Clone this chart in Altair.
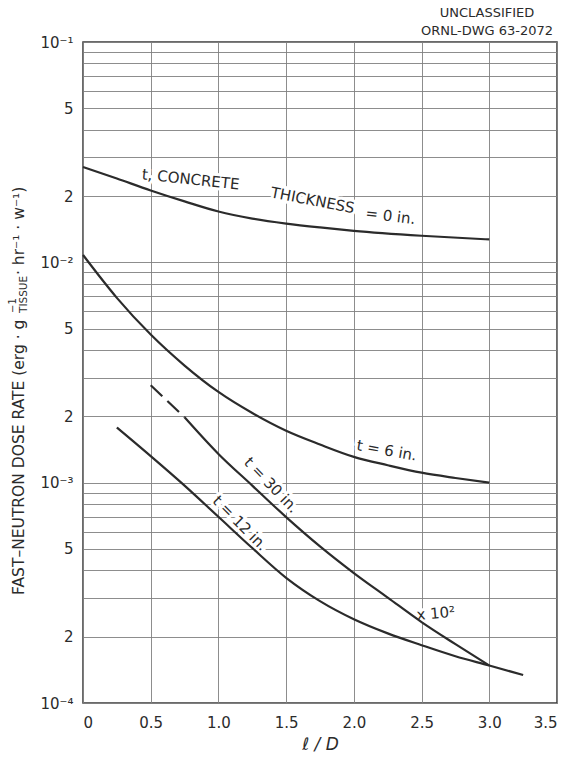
import altair as alt
import pandas as pd

# ---------------- data ----------------
t0_x = [0.0, 0.25, 0.5, 0.75, 1.0, 1.25, 1.5, 1.75, 2.0, 2.5, 3.0]
t0_y = [0.0271, 0.0240, 0.0212, 0.0189, 0.0170, 0.0158, 0.0150, 0.0144, 0.0139, 0.0132, 0.0127]

t6_x = [0.0, 0.25, 0.5, 0.75, 1.0, 1.25, 1.5, 1.75, 2.0, 2.25, 2.5, 2.75, 3.0]
t6_y = [0.0108, 0.0069, 0.0047, 0.0034, 0.00258, 0.00207, 0.00172, 0.00149, 0.00131,
        0.00120, 0.00111, 0.00105, 0.00100]

t12_x = [0.25, 0.5, 0.75, 1.0, 1.25, 1.5, 1.75, 2.0, 2.25, 2.5, 2.75, 3.0, 3.25]
t12_y = [0.00178, 0.00132, 0.00097, 0.00070, 0.000505, 0.000370, 0.000290, 0.000240,
         0.000207, 0.000183, 0.000163, 0.000148, 0.000134]

t30_dash_x = [0.5, 0.625, 0.75]
t30_dash_y = [0.00277, 0.00234, 0.00198]
t30_x = [0.75, 1.0, 1.25, 1.5, 1.75, 2.0, 2.25, 2.5, 2.75, 3.0]
t30_y = [0.00198, 0.00135, 0.00097, 0.000698, 0.000514, 0.000389, 0.000301, 0.000233,
         0.000185, 0.000148]

x_tick_values = [0.0, 0.5, 1.0, 1.5, 2.0, 2.5, 3.0, 3.5]
x_tick_labels = ["0", "0.5", "1.0", "1.5", "2.0", "2.5", "3.0", "3.5"]

y_grid_mult = [1, 2, 3, 4, 5, 6, 7, 8, 9]
y_decades = [1e-4, 1e-3, 1e-2]
y_tick_values = [0.0001, 0.0002, 0.0005, 0.001, 0.002, 0.005, 0.01, 0.02, 0.05, 0.1]
y_tick_labels = ["10⁻⁴", "2", "5", "10⁻³", "2", "5", "10⁻²", "2", "5", "10⁻¹"]

# curve annotations: text, x, y, angle
curve_labels = [
    ("t, CONCRETE", 0.795, 0.0238, 6),
    ("THICKNESS", 1.696, 0.0191, 11),
    ("= 0 in.", 2.27, 0.0162, 7),
    ("t = 6 in.", 2.243, 0.00140, 10),
    ("t = 30 in.", 1.39, 0.000975, 46),
    ("t = 12 in.", 1.16, 0.000655, 45),
    ("x 10²", 2.605, 0.000255, 355),
]

# ---------------- chart ----------------
FONT = "DejaVu Sans"
INK = "#2b2b2b"

y_grid_values = [m * d for d in y_decades for m in y_grid_mult] + [0.1]

def label_expr(values, labels):
    parts = [f"abs(datum.value - {v}) < {abs(v) * 1e-3 + 1e-12} ? '{l}'" for v, l in zip(values, labels)]
    return " : ".join(parts) + " : ''"

x_axis = alt.Axis(values=x_tick_values, labelExpr=label_expr(x_tick_values, x_tick_labels),
                  grid=True, ticks=False, tickSize=0, domain=False, labelPadding=12,
                  labelFontSize=15, labelFont=FONT, labelColor=INK,
                  title="ℓ / D", titleFont=FONT, titleFontSize=17, titleFontStyle="italic",
                  titleFontWeight="normal", titleColor=INK, titlePadding=6,
                  gridColor="#808080", gridWidth=0.9)
y_axis = alt.Axis(values=y_grid_values, labelExpr=label_expr(y_tick_values, y_tick_labels),
                  grid=True, ticks=False, tickSize=0, domain=False, labelPadding=10,
                  labelFontSize=15, labelFont=FONT, labelColor=INK, title=None,
                  labelOverlap=False, gridColor="#808080", gridWidth=0.9)

xs = alt.Scale(domain=[0, 3.5], nice=False, zero=False)
ys = alt.Scale(type="log", domain=[1e-4, 1e-1], nice=False)

X = alt.X("x:Q", scale=xs, axis=x_axis)
Y = alt.Y("y:Q", scale=ys, axis=y_axis)

solid = pd.concat([
    pd.DataFrame({"x": t0_x, "y": t0_y, "curve": "t0"}),
    pd.DataFrame({"x": t6_x, "y": t6_y, "curve": "t6"}),
    pd.DataFrame({"x": t12_x, "y": t12_y, "curve": "t12"}),
    pd.DataFrame({"x": t30_x, "y": t30_y, "curve": "t30"}),
])
dashed = pd.DataFrame({"x": t30_dash_x, "y": t30_dash_y})

layers = []

# white halos under the annotations (break the grid like the original lettering)
for t, lx, ly, ang in curve_labels:
    d = pd.DataFrame({"x": [lx], "y": [ly], "text": [t]})
    layers.append(alt.Chart(d).mark_text(font=FONT, fontSize=15, angle=ang, color="white",
                                         stroke="white", strokeWidth=6)
                  .encode(x=X, y=Y, text="text:N"))

layers.append(alt.Chart(solid).mark_line(color=INK, strokeWidth=2.2, interpolate="monotone")
              .encode(x=X, y=Y, detail="curve:N"))
layers.append(alt.Chart(dashed).mark_line(color=INK, strokeWidth=2.2, strokeDash=[16, 7])
              .encode(x=X, y=Y))

for t, lx, ly, ang in curve_labels:
    d = pd.DataFrame({"x": [lx], "y": [ly], "text": [t]})
    layers.append(alt.Chart(d).mark_text(font=FONT, fontSize=15, angle=ang, color=INK)
                  .encode(x=X, y=Y, text="text:N"))

one = pd.DataFrame({"a": [0]})

def ptext(txt, px, py, size, align="center", angle=0, baseline="middle"):
    return alt.Chart(one).mark_text(text=txt, font=FONT, fontSize=size, color=INK,
                                    align=align, angle=angle, baseline=baseline).encode(
        x=alt.value(px), y=alt.value(py))

# top-right drawing ids (pixel positions relative to plot origin at (83, 42))
layers.append(ptext("UNCLASSIFIED", 404, -29, 13))
layers.append(ptext("ORNL-DWG 63-2072", 404, -11, 13))

# y-axis title with sub/superscript pieces, rotated
TX = -64
layers.append(ptext("FAST–NEUTRON DOSE RATE (erg · g", TX, 553, 15.5, align="left", angle=270))
layers.append(ptext("−1", TX - 6, 271, 10, align="left", angle=270))
layers.append(ptext("TISSUE", TX + 5, 271, 10.5, align="left", angle=270))
layers.append(ptext(" · hr⁻¹ · w⁻¹)", TX, 233, 15.5, align="left", angle=270))

chart = alt.layer(*layers).properties(
    width=474, height=661,
    padding={"left": 83, "top": 42, "right": 12, "bottom": 56},
    autosize="none", background="white",
).configure_view(stroke="#3a3a3a", strokeWidth=1.5)

chart.save("out.html", embed_options={"renderer": "svg", "actions": False})
